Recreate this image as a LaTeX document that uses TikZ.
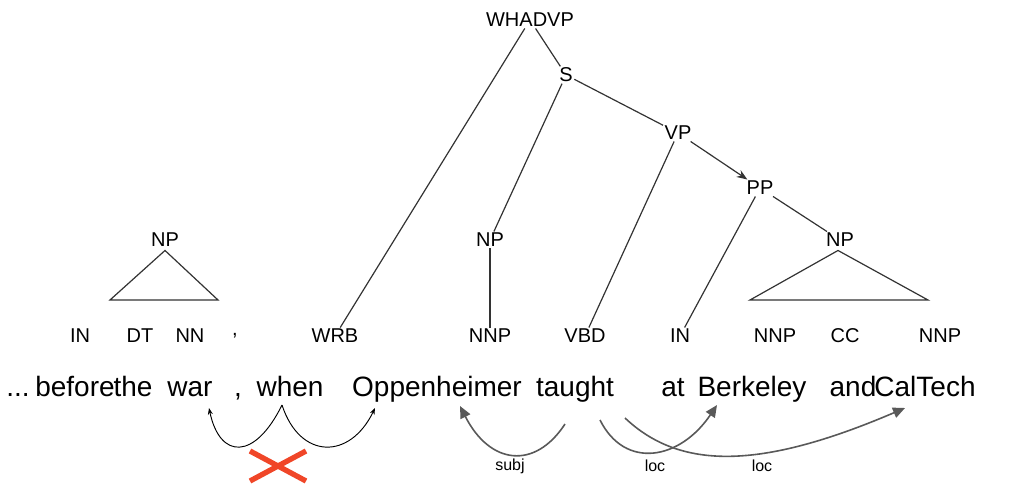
\documentclass[tikz,border=0pt]{standalone}
\usepackage{fontspec}
\setmainfont{Liberation Sans}
\usetikzlibrary{arrows.meta}
\definecolor{xred}{RGB}{240,70,40}
\begin{document}
\begin{tikzpicture}[x=0.75pt,y=-0.75pt,
 lab/.style={font=\fontsize{15}{17}\selectfont,inner sep=1pt},
 wd/.style={font=\fontsize{21}{24}\selectfont,inner sep=1pt,anchor=base},
 br/.style={line width=0.9pt,black!80},
 dep/.style={line width=1.2pt,black!65,-{Triangle[length=9pt,width=8pt]}},
 thin/.style={line width=0.7pt,-{Stealth[length=5pt]}},
 sm/.style={font=\fontsize{12}{14}\selectfont}]
\useasboundingbox (0,0) rectangle (1024,493);
% tree labels
\node[lab] (whadvp) at (530,20) {WHADVP};
\node[lab] (s) at (566,75) {S};
\node[lab] (vp) at (678,133) {VP};
\node[lab] (pp) at (760,188) {PP};
\node[lab] (npl) at (165,240) {NP};
\node[lab] (npm) at (490,240) {NP};
\node[lab] (npr) at (840,240) {NP};
\foreach \n/\x/\t in {in1/80/IN,dt/140/DT,nn/190/NN,cm/235/{,},wrb/335/WRB,nnp1/490/NNP,vbd/585/VBD,in2/680/IN,nnp2/775/NNP,cc/845/CC,nnp3/940/NNP}
 \node[lab] (\n) at (\x,336) {\t};
% words
\node[wd] (w0) at (18,396) {.{}.{}.};
\foreach \n/\x/\t in {w1/75/before,w2/133/the,w3/190/war,w4/238/{,},w5/290/when,w6/437/Oppenheimer,w7/575/taught,w8/673/at,w9/752/Berkeley,w10/853/and,w11/925/CalTech}
 \node[wd] (\n) at (\x,396) {\t};
% branches
\draw[br] (whadvp) -- (wrb);
\draw[br] (whadvp) -- (s);
\draw[br] (s) -- (npm);
\draw[br] (s) -- (vp);
\draw[br,-{Stealth[length=8pt]}] (vp) -- (pp);
\draw[br] (vp) -- (vbd);
\draw[br] (pp) -- (in2);
\draw[br] (pp) -- (npr);
\draw[br] (npm) -- (nnp1);
\draw[br] (npl.south) ++(0,2) coordinate (al) -- (110,300) -- (218,300) -- cycle;
\draw[br] (npr.south) ++(-2,2) coordinate (ar) -- (750,300) -- (928,300) -- cycle;
% thin arcs
\coordinate (wa) at (282,405);
\draw[thin] (wa) .. controls (255,460) and (220,460) .. (209,408);
\draw[thin] (wa) .. controls (300,460) and (350,460) .. (375,408);
\draw[xred,line width=4pt] (250,451) -- (306,481) (250,481) -- (306,451);
% dependencies
\coordinate (t1) at (565,424);
\coordinate (t2) at (600,420);
\coordinate (t3) at (625,418);
\draw[dep] (t1) .. controls (535,470) and (490,465) .. (460,406);
\draw[dep] (t2) .. controls (625,470) and (680,460) .. (717,405);
\draw[dep] (t3) .. controls (680,470) and (760,470) .. (905,408);
\node[sm] (l1) at (510,466) {subj};
\node[sm] (l2) at (655,466) {loc};
\node[sm] (l3) at (762,466) {loc};
\end{tikzpicture}
\end{document}
